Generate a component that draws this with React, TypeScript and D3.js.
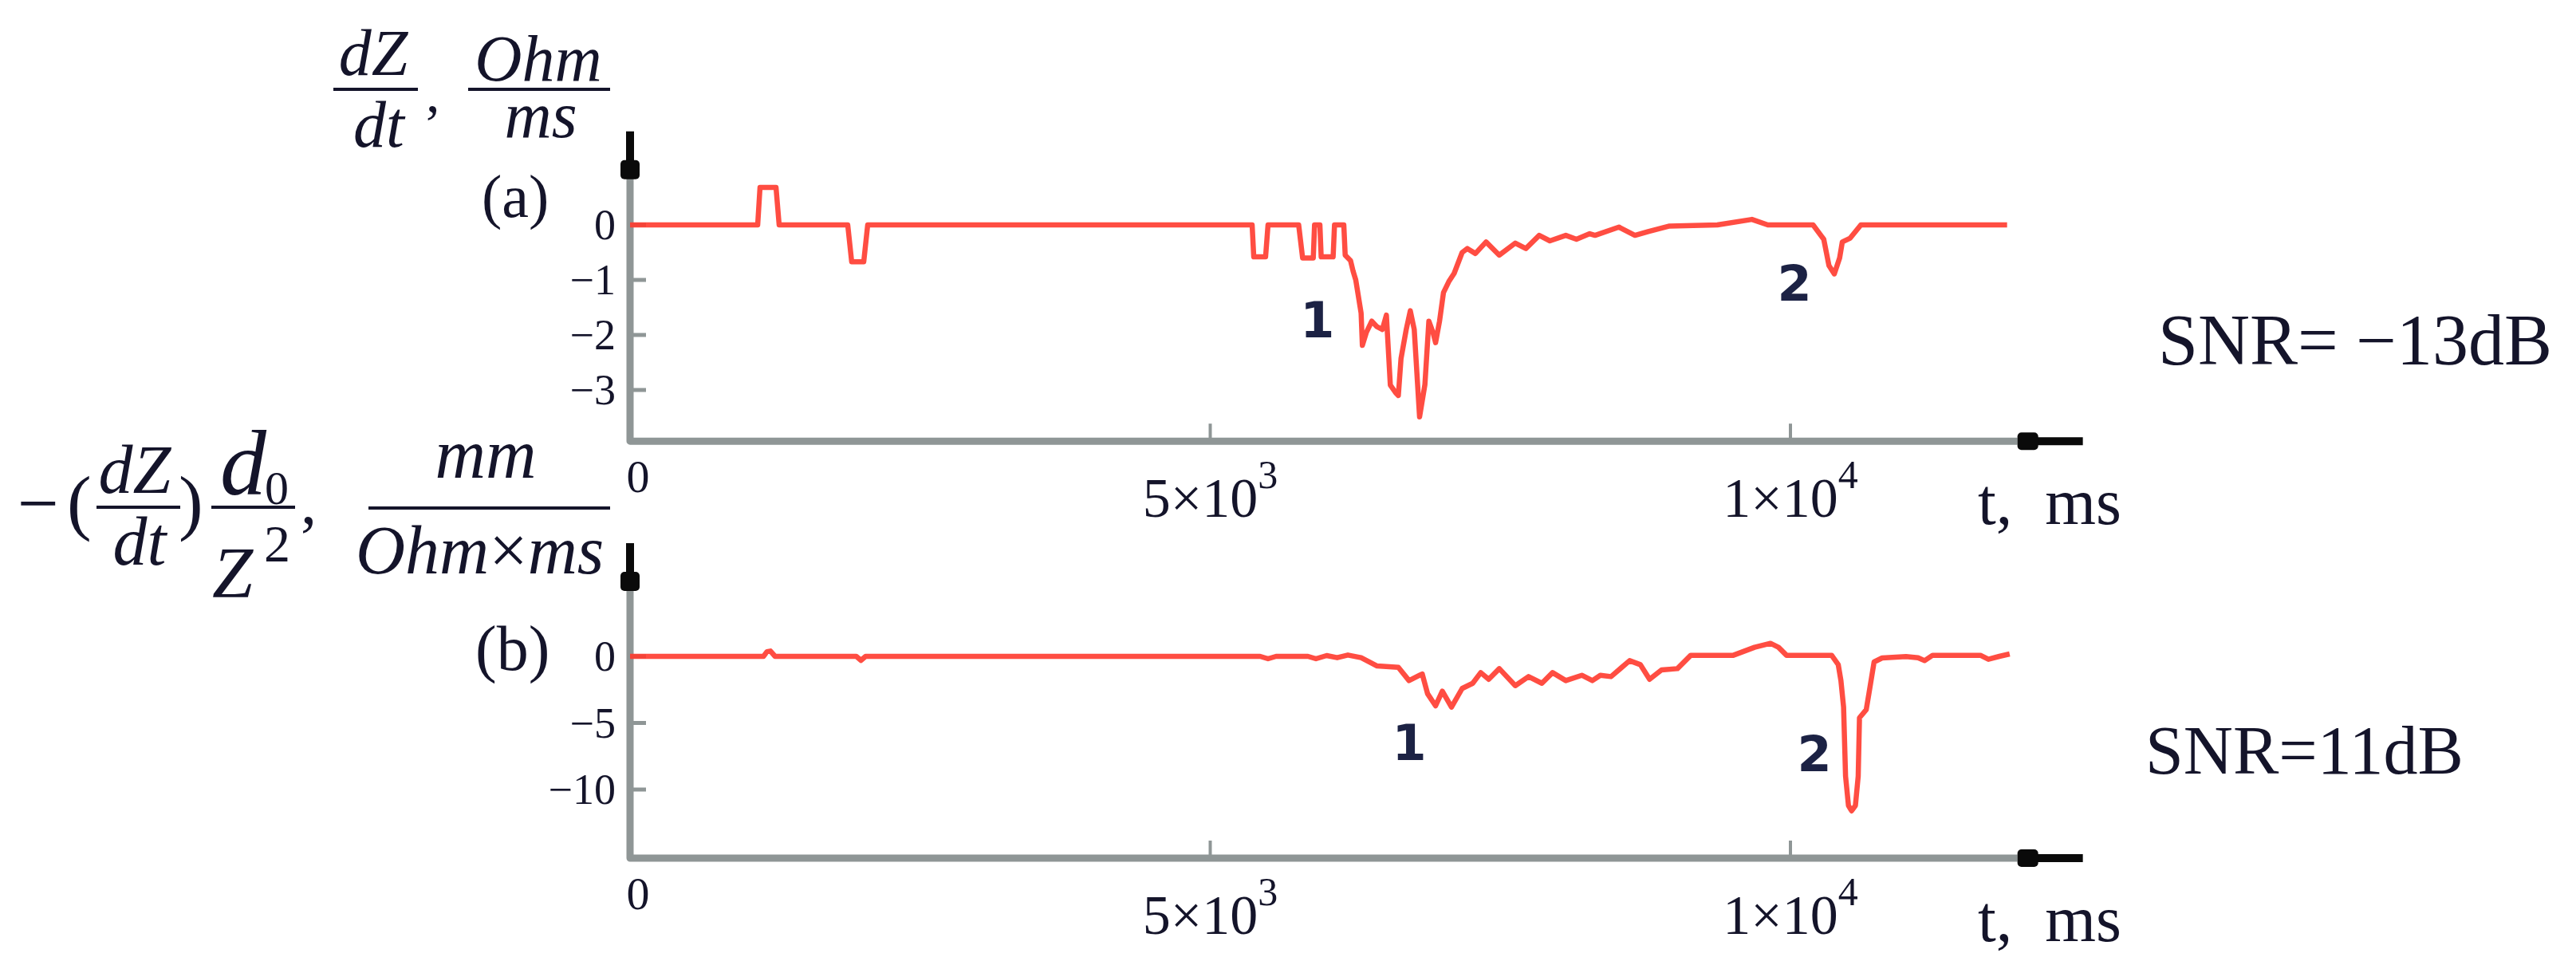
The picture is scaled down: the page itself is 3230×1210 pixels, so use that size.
import React from "react";
import * as d3 from "d3";

// time axis (ms)
const xTickValues = [0, 5000, 10000];
const xTickBase = ["0", "5×10", "1×10"];
const xTickExp = ["", "3", "4"];
const T_END = 12520; // where the axis arrow stops

// panel (a): dZ/dt, Ohm/ms as [t, value]
const seriesA: [number, number][] = [
  [0, 0], [1100, 0], [1120, 0.68], [1258, 0.68], [1285, 0],
  [1876, 0], [1910, -0.67], [2014, -0.67], [2048, 0],
  [5361, 0], [5375, -0.58], [5477, -0.58], [5498, 0],
  [5762, 0], [5796, -0.6], [5888, -0.6], [5899, 0],
  [5945, 0], [5956, -0.58], [6059, -0.58], [6071, 0],
  [6151, 0], [6163, -0.55], [6209, -0.65], [6231, -0.84], [6254, -1.0],
  [6300, -1.6], [6311, -2.19], [6346, -1.95], [6392, -1.75], [6437, -1.85],
  [6483, -1.9], [6518, -1.64], [6552, -2.91], [6598, -3.05], [6621, -3.1],
  [6644, -2.43], [6689, -1.9], [6724, -1.56], [6758, -1.9], [6804, -3.49],
  [6850, -2.9], [6884, -1.75], [6919, -1.95], [6942, -2.14], [6976, -1.75],
  [7010, -1.23], [7056, -1.03], [7102, -0.88], [7171, -0.5], [7216, -0.43],
  [7285, -0.52], [7377, -0.31], [7491, -0.55], [7629, -0.33], [7720, -0.43],
  [7835, -0.19], [7927, -0.29], [8064, -0.19], [8156, -0.26], [8270, -0.16],
  [8316, -0.19], [8522, -0.04], [8660, -0.19], [8774, -0.12], [8958, -0.02],
  [9370, 0], [9668, 0.1], [9805, 0], [10195, 0], [10287, -0.26],
  [10332, -0.74], [10378, -0.89], [10424, -0.6], [10447, -0.31], [10515, -0.24],
  [10607, 0], [11867, 0],
];
const yTicksA = [0, -1, -2, -3];
const yTickLabelsA = ["0", "−1", "−2", "−3"];
const marksA = [
  { label: "1", t: 5924, v: -2.04 },
  { label: "2", t: 10034, v: -1.38 },
];

// panel (b): -(dZ/dt) d0/Z^2, mm/(Ohm x ms)
const seriesB: [number, number][] = [
  [0, 0], [1150, 0], [1180, 0.35], [1210, 0.4], [1250, 0],
  [1950, 0], [1990, -0.3], [2030, 0],
  [5430, 0], [5498, -0.18], [5567, 0], [5842, 0], [5911, -0.18],
  [6003, 0.06], [6094, -0.1], [6186, 0.1], [6300, -0.1], [6438, -0.72],
  [6621, -0.82], [6713, -1.82], [6827, -1.32], [6873, -2.81], [6942, -3.71],
  [7000, -2.61], [7079, -3.81], [7171, -2.41], [7262, -2.02], [7331, -1.22],
  [7400, -1.72], [7491, -0.92], [7629, -2.2], [7743, -1.52], [7858, -2.02],
  [7950, -1.22], [8064, -1.82], [8202, -1.42], [8293, -1.82], [8362, -1.42],
  [8454, -1.52], [8614, -0.32], [8706, -0.62], [8786, -1.72], [8889, -1.02],
  [9026, -0.92], [9141, 0.08], [9508, 0.08], [9691, 0.68], [9828, 0.98],
  [9897, 0.68], [9966, 0.08], [10355, 0.08], [10412, -0.62], [10435, -1.82],
  [10458, -3.81], [10475, -9.0], [10500, -11.2], [10527, -11.6], [10560, -11.2],
  [10584, -9.0], [10595, -4.61], [10653, -4.01], [10676, -2.81], [10721, -0.42],
  [10790, -0.12], [10996, -0.02], [11100, -0.1], [11156, -0.32], [11225, 0.08],
  [11637, 0.08], [11706, -0.22], [11800, 0], [11889, 0.18],
];
const yTicksB = [0, -5, -10];
const yTickLabelsB = ["0", "−5", "−10"];
const marksB = [
  { label: "1", t: 6715, v: -7.8 },
  { label: "2", t: 10206, v: -8.6 },
];

const serif = "'Liberation Serif', 'Times New Roman', serif";
const ink = "#14142a";
const axisGray = "#8f9696";
const curveRed = "#ff3a2e";

const x = d3.scaleLinear().domain([0, 10000]).range([790, 2245]);

type PanelProps = {
  series: [number, number][];
  y: d3.ScaleLinear<number, number>;
  vMin: number;
  vMax: number;
  ticks: number[];
  tickLabels: string[];
  marks: { label: string; t: number; v: number }[];
  tag: string;
  tagX: number;
  tagY: number;
  tagSize: number;
  snr: string;
  snrX: number;
  snrY: number;
  snrSize: number;
};

const Panel = ({ series, y, vMin, vMax, ticks, tickLabels, marks, tag, tagX, tagY, tagSize, snr, snrX, snrY, snrSize }: PanelProps) => {
  const x0 = x(0);
  const yTop = y(vMax);
  const yBot = y(vMin);
  const xEnd = x(T_END);
  const line = d3.line<[number, number]>().x(d => x(d[0])).y(d => y(d[1]));

  return (
    <g>
      {/* y-axis tick stubs */}
      {ticks.map(v => (
        <line key={"yt" + v} x1={x0} x2={x0 + 20} y1={y(v)} y2={y(v)} stroke={axisGray} strokeWidth={5} />
      ))}
      {/* x-axis tick stubs */}
      {xTickValues.slice(1).map(t => (
        <line key={"xt" + t} x1={x(t)} x2={x(t)} y1={yBot} y2={yBot - 22} stroke={axisGray} strokeWidth={4} />
      ))}
      {/* axes */}
      <path
        d={`M${x0},${yTop + 58} L${x0},${yBot} L${xEnd - 82},${yBot}`}
        fill="none" stroke={axisGray} strokeWidth={9} strokeLinejoin="round"
      />
      <line x1={x0} x2={x0} y1={yTop} y2={yTop + 45} stroke="#0a0a0a" strokeWidth={10} />
      <rect x={x0 - 12} y={yTop + 36} width={24} height={24} rx={5} fill="#0a0a0a" />
      <line x1={xEnd - 60} x2={xEnd} y1={yBot} y2={yBot} stroke="#0a0a0a" strokeWidth={10} />
      <rect x={xEnd - 82} y={yBot - 11} width={26} height={22} rx={5} fill="#0a0a0a" />

      {/* tick labels */}
      {ticks.map((v, i) => (
        <text key={"yl" + v} x={x0 - 18} y={y(v) + 18} textAnchor="end" fontFamily={serif} fontSize={54} fill={ink}>
          {tickLabels[i]}
        </text>
      ))}
      {xTickValues.map((t, i) => (
        <text
          key={"xl" + t}
          x={x(t) + (i === 0 ? 10 : 0)}
          y={yBot + (i === 0 ? 64 : 95)}
          textAnchor="middle" fontFamily={serif} fontSize={i === 0 ? 58 : 70} fill={ink}
        >
          {xTickBase[i]}
          {xTickExp[i] && <tspan dy={-36} fontSize={50}>{xTickExp[i]}</tspan>}
        </text>
      ))}
      <text x={2480} y={yBot + 104} fontFamily={serif} fontSize={82} fill={ink} xmlSpace="preserve">
        t,  ms
      </text>

      {/* curve */}
      <path d={line(series) || ""} fill="none" stroke={curveRed} strokeWidth={6.5} strokeLinejoin="round" strokeOpacity={0.9} />

      {/* peak markers */}
      {marks.map(m => (
        <text key={m.label} x={x(m.t)} y={y(m.v)} textAnchor="middle" fontFamily="'DejaVu Sans', sans-serif"
          fontWeight="bold" fontSize={62} fill="#1c2244">
          {m.label}
        </text>
      ))}

      <text x={tagX} y={tagY} fontFamily={serif} fontSize={tagSize} fill={ink}>{tag}</text>
      <text x={snrX} y={snrY} fontFamily={serif} fontSize={snrSize} fill={ink} xmlSpace="preserve">{snr}</text>
    </g>
  );
};

const App = () => {
  const yA = d3.scaleLinear().domain([-3, 0]).range([489, 282]);
  const yB = d3.scaleLinear().domain([-10, 0]).range([990, 823]);

  return (
    <svg
      width={3230}
      height={1210}
      viewBox="0 0 3230 1210"
      style={{ position: "absolute", left: 0, top: 0, background: "#fff" }}
    >
      <rect width={3230} height={1210} fill="#fff" />

      {/* label of panel (a): dZ/dt, Ohm/ms — each fraction is one text */}
      <g fontFamily={serif} fill={ink} fontStyle="italic">
        <text fontSize={82} textAnchor="middle">
          <tspan x={468} y={94}>dZ</tspan>
          <tspan x={475} y={184}>dt</tspan>
        </text>
        <line x1={418} x2={524} y1={112} y2={112} stroke={ink} strokeWidth={4} />
        <text x={534} y={140} fontSize={70} fontStyle="normal">,</text>
        <text fontSize={82} textAnchor="middle">
          <tspan x={675} y={101}>Ohm</tspan>
          <tspan x={678} y={172}>ms</tspan>
        </text>
        <line x1={587} x2={765} y1={112} y2={112} stroke={ink} strokeWidth={4} />
      </g>

      {/* label of panel (b): -(dZ/dt) d0/Z^2, mm/(Ohm x ms) */}
      <g fontFamily={serif} fill={ink} fontStyle="italic">
        <text x={22} y={662} fontSize={92} fontStyle="normal">−</text>
        <text x={84} y={660} fontSize={92} fontStyle="normal">(</text>
        <text fontSize={86} textAnchor="middle">
          <tspan x={169} y={618}>dZ</tspan>
          <tspan x={175} y={708}>dt</tspan>
        </text>
        <line x1={121} x2={226} y1={636} y2={636} stroke={ink} strokeWidth={4} />
        <text x={224} y={660} fontSize={92} fontStyle="normal">)</text>
        <text>
          <tspan x={276} y={620} fontSize={116}>d</tspan>
          <tspan x={332} y={632} fontSize={60} fontStyle="normal">0</tspan>
          <tspan x={266} y={749} fontSize={92}>Z</tspan>
          <tspan x={331} y={704} fontSize={66} fontStyle="normal">2</tspan>
        </text>
        <line x1={265} x2={370} y1={636} y2={636} stroke={ink} strokeWidth={4} />
        <text x={377} y={656} fontSize={80} fontStyle="normal">,</text>
        <text fontSize={88}>
          <tspan x={609} y={599} textAnchor="middle">mm</tspan>
          <tspan x={446} y={719} fontSize={86}>Ohm</tspan>
          <tspan fontStyle="normal" fontSize={86}>×</tspan>
          <tspan fontSize={86}>ms</tspan>
        </text>
        <line x1={462} x2={765} y1={637} y2={637} stroke={ink} strokeWidth={4} />
      </g>

      <Panel
        series={seriesA} y={yA} vMin={-3.93} vMax={1.7}
        ticks={yTicksA} tickLabels={yTickLabelsA} marks={marksA}
        tag="(a)" tagX={604} tagY={272} tagSize={76}
        snr="SNR= −13dB" snrX={2706} snrY={457} snrSize={90}
      />
      <Panel
        series={seriesB} y={yB} vMin={-15.15} vMax={8.5}
        ticks={yTicksB} tickLabels={yTickLabelsB} marks={marksB}
        tag="(b)" tagX={596} tagY={840} tagSize={80}
        snr="SNR=11dB" snrX={2690} snrY={970} snrSize={86}
      />
    </svg>
  );
};

export default App;
